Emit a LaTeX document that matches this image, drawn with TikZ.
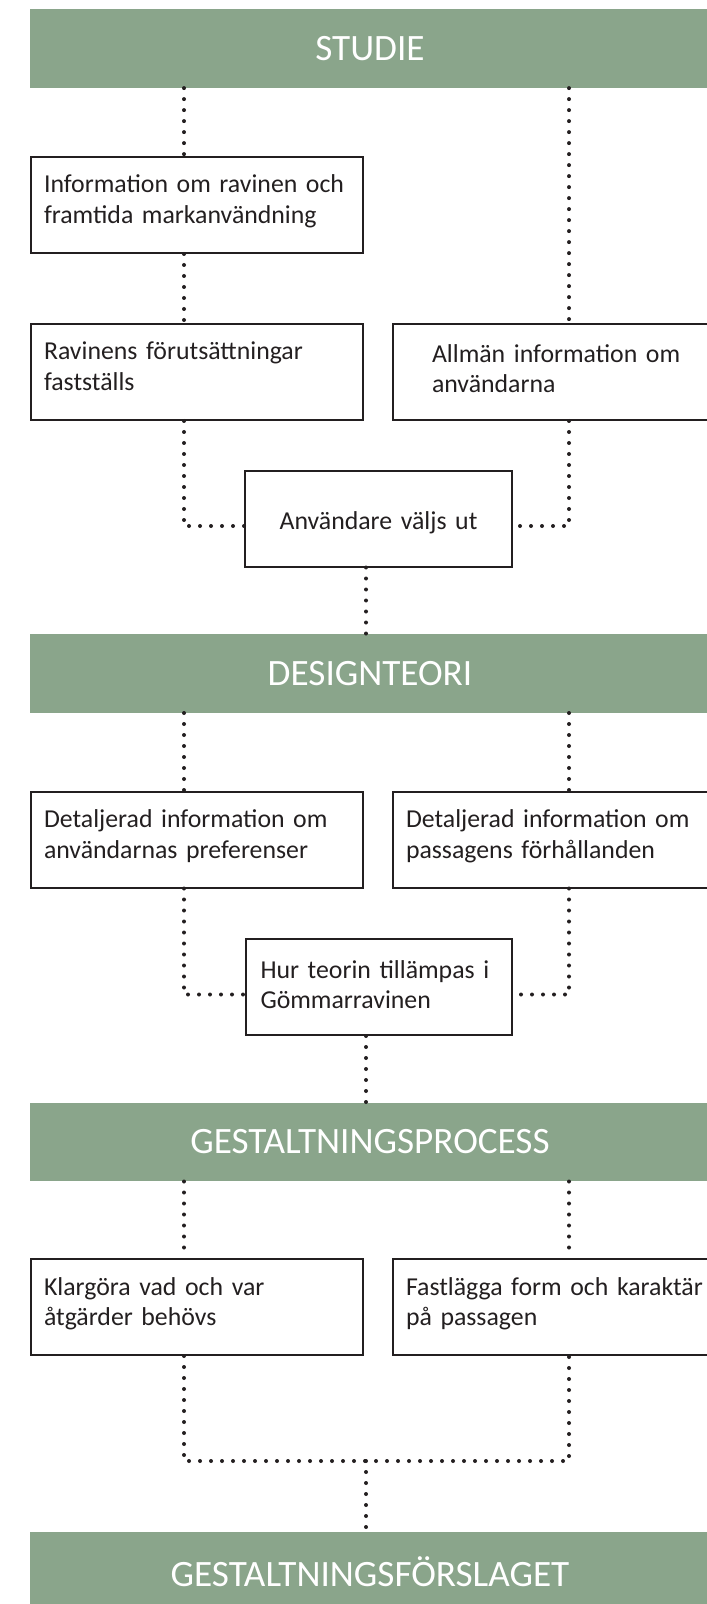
\documentclass[tikz,border=0pt]{standalone}
\usepackage{fontspec}
\setmainfont{Carlito}
\definecolor{sage}{HTML}{8AA58B}
\definecolor{ink}{HTML}{231F20}
\begin{document}
\begin{tikzpicture}
	[	x=0.5pt,y=-0.5pt,
	banner/.style={rectangle,draw=none,fill=sage,text=white,inner sep=0pt,minimum width=340pt,minimum height=39.2pt,font=\fontsize{18.6pt}{22pt}\selectfont},
	box/.style={rectangle,draw=ink,line width=1pt,anchor=north west,inner xsep=6.5pt,inner ysep=0pt,text width=153pt,align=left,text height=18pt,text depth=30pt,text=ink,font=\fontsize{12.9pt}{15.3pt}\selectfont},
	wide/.style={box,text width=161pt},
	dots/.style={ink,line width=2pt,line cap=round,dash pattern=on 0pt off 5.5pt}
	]
	\useasboundingbox (0,0) rectangle (706,1604);
	\coordinate (L) at (184,0);
	\coordinate (R) at (569,0);
	\coordinate (C) at (366,0);

	% banners
	\node[banner] (studie) at (370,48.5) {STUDIE};
	\node[banner] (teori) at (370,673.4) {DESIGNTEORI};
	\node[banner] (process) at (370,1141.9) {GESTALTNINGSPROCESS};
	\node[banner] (forslag) at (370,1571.2) {GESTALTNINGSFÖRSLAGET};

	% boxes
	\node[box] (info) at (30,156) {Information om ravinen och\\framtida markanvändning};
	\node[box] (rav) at (30,323) {Ravinens förutsättningar\\fastställs};
	\node[wide,inner xsep=19.5pt,text width=135pt,text height=19.2pt,text depth=28.8pt] (allm) at (392,323) {Allmän information om\\användarna};
	\node[box,text width=120.5pt,align=center,text height=29.4pt,text depth=18.6pt] (anv) at (244,469.5) {Användare väljs ut};
	\node[box] (detA) at (30,790.5) {Detaljerad information om\\användarnas preferenser};
	\node[wide] (detP) at (392,790.5) {Detaljerad information om\\passagens förhållanden};
	\node[box,inner xsep=7.5pt,text width=118pt,text height=19.5pt,text depth=28.5pt] (hur) at (244.5,938) {Hur teorin tillämpas i\\Gömmarravinen};
	\node[box] (klar) at (30,1258) {Klargöra vad och var\\åtgärder behövs};
	\node[wide] (fast) at (392,1258) {Fastlägga form och karaktär\\på passagen};

	% studie
	\draw[dots] (studie.south -| L) -- (info.north -| L);
	\draw[dots] (studie.south -| R) -- (allm.north -| R);
	\draw[dots] (info.south -| L) -- (rav.north -| L);
	\draw[dots] (rav.south -| L) |- ([yshift=-3.75pt]anv.west);
	\draw[dots] (allm.south -| R) |- ([yshift=-3.75pt]anv.east);
	\draw[dots] (anv.south -| C) -- (teori.north -| C);

	% designteori
	\draw[dots] (teori.south -| L) -- (detA.north -| L);
	\draw[dots] (teori.south -| R) -- (detP.north -| R);
	\draw[dots] (detA.south -| L) |- ([yshift=-3.75pt]hur.west);
	\draw[dots] (detP.south -| R) |- ([yshift=-3.75pt]hur.east);
	\draw[dots] (hur.south -| C) -- (process.north -| C);

	% gestaltningsprocess
	\coordinate (join) at (366,1461);
	\draw[dots] (process.south -| L) -- (klar.north -| L);
	\draw[dots] (process.south -| R) -- (fast.north -| R);
	\draw[dots] (klar.south -| L) |- (join) -| (fast.south -| R);
	\draw[dots] (join) -- (forslag.north -| C);
\end{tikzpicture}
\end{document}
